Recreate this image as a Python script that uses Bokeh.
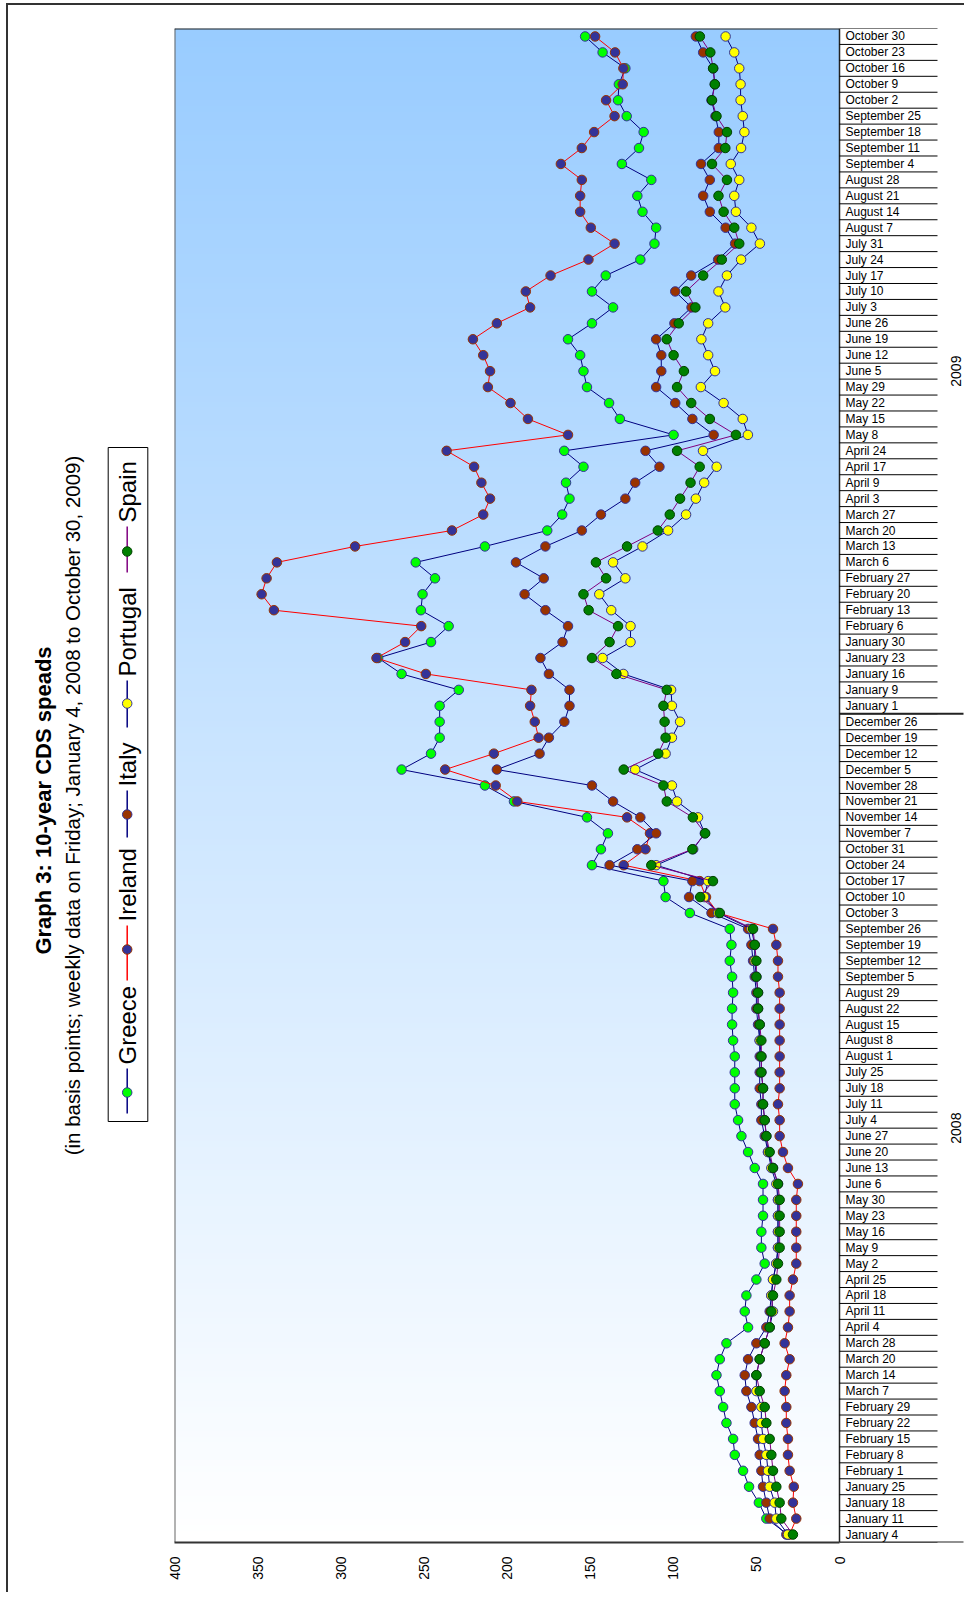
import numpy as np
from math import pi
from bokeh.plotting import figure
from bokeh.layouts import row
from bokeh.models import Range1d, FixedTicker, ColumnDataSource
from bokeh.core.properties import value
from bokeh.embed import file_html
from bokeh.resources import INLINE

# ---------------- data ----------------
title = "Graph 3: 10-year CDS speads"
subtitle = "(in basis points; weekly data on Friday; January 4, 2008 to October 30, 2009)"

years = ["2008", "2009"]
dates_2008 = ["January 4", "January 11", "January 18", "January 25", "February 1", "February 8",
              "February 15", "February 22", "February 29", "March 7", "March 14", "March 20",
              "March 28", "April 4", "April 11", "April 18", "April 25", "May 2", "May 9", "May 16",
              "May 23", "May 30", "June 6", "June 13", "June 20", "June 27", "July 4", "July 11",
              "July 18", "July 25", "August 1", "August 8", "August 15", "August 22", "August 29",
              "September 5", "September 12", "September 19", "September 26", "October 3",
              "October 10", "October 17", "October 24", "October 31", "November 7", "November 14",
              "November 21", "November 28", "December 5", "December 12", "December 19", "December 26"]
dates_2009 = ["January 1", "January 9", "January 16", "January 23", "January 30", "February 6",
              "February 13", "February 20", "February 27", "March 6", "March 13", "March 20",
              "March 27", "April 3", "April 9", "April 17", "April 24", "May 8", "May 15", "May 22",
              "May 29", "June 5", "June 12", "June 19", "June 26", "July 3", "July 10", "July 17",
              "July 24", "July 31", "August 7", "August 14", "August 21", "August 28", "September 4",
              "September 11", "September 18", "September 25", "October 2", "October 9", "October 16",
              "October 23", "October 30"]

greece = [31, 44, 48.5, 54.4, 58, 63, 64, 68, 70, 72, 74, 72, 68, 55, 57, 56, 50, 45, 47, 47,
          46, 46, 46, 51, 55, 59, 61, 63, 63, 63, 63, 64, 64.6, 64.6, 64, 64.6, 66, 65, 66, 90,
          104.6, 105.9, 148.9, 143.5, 139.3, 151.9, 195.8, 213.3, 263.4, 245.7, 240.5, 240.5,
          240.5, 229, 263.4, 277.5, 245.7, 235.1, 251.8, 250.8, 243.3, 254.9, 213.3, 175.8, 166.8,
          162.4, 164.5, 154, 165.6, 99.8, 132.1, 138.6, 151.9, 154, 156, 163.3, 148.9, 136.2, 148.9,
          140.6, 119.8, 111.3, 110.3, 118.5, 121.6, 113.2, 130.9, 120.6, 117.8, 128, 133.2, 132.7,
          128.8, 142.5, 153]
ireland = [30, 26, 28, 27.5, 30, 31, 31, 32, 32, 33, 32, 30, 33, 31, 30, 30, 28, 26, 26, 26,
           26, 26, 25, 31, 34, 36, 36, 37, 36, 36, 36, 36, 36, 36, 36, 37, 37, 38, 40, 73,
           80.3, 84.1, 129.8, 116.7, 114, 127.8, 193.8, 206.8, 237.2, 207.9, 181, 183.3,
           186.1, 185.3, 248.8, 278.5, 261.3, 251.6, 340.2, 347.6, 344.6, 338.4, 291.4, 233.1, 214.3,
           210.2, 215.4, 219.8, 236.3, 163.3, 187.4, 197.9, 211.5, 210.2, 214.3, 220.5, 206.1, 186.1,
           188.7, 173.8, 151, 135.3, 149.6, 156, 156, 155, 167.6, 155, 147.6, 135.3, 140.4, 130.4,
           130, 135, 147]
italy = [32, 42, 44, 46, 47, 48, 49, 51, 53, 56, 57, 55, 50, 44, 42, 41, 40, 38, 37, 37,
         37, 37, 37, 40, 43, 45, 47, 47, 48, 48, 48, 48, 49, 50, 50, 51, 52, 53, 55, 77,
         90.5, 88.5, 138.3, 121.6, 110.3, 119.8, 136.2, 148.9, 206.1, 180.4, 174.8, 165.5,
         162.4, 162.4, 174.8, 179.9, 166.6, 163.3, 176.9, 189.4, 177.9, 194.6, 176.9, 155, 143.5,
         128.8, 122.9, 108.3, 116.7, 75.7, 88.5, 98.8, 110.3, 107.2, 107.2, 110.3, 99.3, 89, 98.8,
         89.2, 73, 62.8, 68.5, 78, 82, 78, 83.3, 72.6, 72.6, 74.6, 77, 75, 76, 82, 86.4]
portugal = [31, 38, 39, 42, 43, 44, 46, 47, 47, 50, 50, 48, 45, 42, 40, 41, 40, 38, 37, 37,
            37, 37, 38, 41, 43, 44, 45, 46, 46, 47, 47, 48, 48, 49, 49, 50, 51, 51, 53, 73,
            81.4, 79, 110.3, 88, 81, 85.1, 97.7, 100.8, 122.9, 104.6, 100.8, 95.9,
            100.8, 101.3, 130, 142.5, 125.7, 125.7, 137.3, 144.5, 128.8, 136.2, 118.5, 103.1, 92.3,
            86.4, 81.4, 73.9, 82.1, 55.1, 58.2, 69.7, 83.4, 74.9, 79, 83.1, 79, 68.7, 72.8, 67.7,
            59.2, 47.9, 53, 62.3, 63.3, 60.3, 65.4, 59.2, 57.2, 58.2, 59.5, 59.5, 60.3, 63.3, 68.5]
spain = [28, 35, 36, 38, 40, 41, 42, 44, 45, 48, 50, 48, 45, 42, 41, 40, 38, 37, 36, 36,
         36, 36, 37, 40, 42, 44, 45, 46, 46, 47, 47, 47, 48, 49, 49, 50, 50, 51, 52, 72,
         83.8, 76.1, 113.2, 88.5, 80.8, 88.2, 103.9, 105.9, 129.8, 109, 104.6, 105.2,
         105.9, 103.9, 134.2, 148.9, 138.3, 133.2, 150.9, 154, 140.4, 146.5, 127.8, 109.3, 102.1,
         95.9, 89.6, 84.1, 97.7, 62.3, 78, 89.2, 97.7, 93.6, 99.8, 103.9, 96.7, 86.7, 92.3, 82,
         70.8, 60.3, 63.3, 69.7, 72.8, 67.7, 76.7, 68.7, 67.7, 74, 76.7, 75, 76, 77.7, 84]

value_ticks = [0, 50, 100, 150, 200, 250, 300, 350, 400]

# ---------------- style / layout ----------------
FONT = "Liberation Sans"
NAVY = "#000080"
series = [
    ("Greece", greece, "#00FF00", "#333399", NAVY),
    ("Ireland", ireland, "#333399", "#993300", "#FF0000"),
    ("Italy", italy, "#993300", "#333399", NAVY),
    ("Portugal", portugal, "#FFFF00", "#333399", NAVY),
    ("Spain", spain, "#008000", "#004000", "#800080"),
]

dates = dates_2008 + dates_2009
n = len(dates)
idx = list(range(n))

ORIGIN_X, ORIGIN_Y = 8, 5          # page position of the layout content
LEFT_W, MAIN_LEFT = 154, 12
VALUE_W, LABEL_AREA = 665, 125      # value area and date-label area widths (px)
FRAME_H = 1514
TOP, BOTTOM = 23, 50
FIG_H = TOP + FRAME_H + BOTTOM
px_per_unit = VALUE_W / 400.0
TICK_LEN, GROUP_LEN, YEAR_OFF = 98, 124, 116

x_end = -LABEL_AREA / px_per_unit

# ---------------- main chart ----------------
p = figure(frame_width=VALUE_W + LABEL_AREA, frame_height=FRAME_H,
           x_range=Range1d(400, x_end), y_range=Range1d(-0.5, n - 0.5),
           y_axis_type=None, output_backend="svg", toolbar_location=None,
           min_border_left=MAIN_LEFT, min_border_right=0, min_border_top=TOP,
           min_border_bottom=BOTTOM, background_fill_color="white",
           border_fill_color="white", outline_line_color=None)

# gradient background of the value area
N = 256
grad = np.zeros((N, 1), dtype=np.uint32)
view = grad.view(dtype=np.uint8).reshape((N, 1, 4))
t = np.linspace(0.0, 1.0, N)
view[:, 0, 0] = np.round(255 + (0x99 - 255) * t).astype(np.uint8)
view[:, 0, 1] = np.round(255 + (0xCC - 255) * t).astype(np.uint8)
view[:, 0, 2] = 255
view[:, 0, 3] = 255
p.image_rgba(image=[grad], x=0, y=-0.5, dw=400, dh=n)

# plot-area edges (left and top)
p.segment(x0=[400], y0=[-0.5], x1=[400], y1=[n - 0.5], line_color="#666666", line_width=2)
p.segment(x0=[400], y0=[n - 0.5], x1=[0], y1=[n - 0.5], line_color="#222222", line_width=2)

# grid
p.xgrid.ticker = FixedTicker(ticks=value_ticks[1:])
p.xgrid.grid_line_color = "black"
p.xgrid.grid_line_dash = "9 6"
p.xgrid.grid_line_width = 1

# value axis (bottom)
xa = p.xaxis[0]
xa.ticker = FixedTicker(ticks=value_ticks)
xa.bounds = (0, 400)
xa.major_label_orientation = pi / 2
xa.major_tick_out = 0
xa.major_tick_in = 0
xa.minor_tick_out = 0
xa.minor_tick_in = 0
xa.major_label_standoff = 14
xa.axis_line_width = 2
xa.axis_line_color = "#333333"
xa.major_label_text_font = FONT
xa.major_label_text_font_size = "14px"
xa.major_label_text_color = "black"

# series
for name, vals, fill, edge, line in series:
    src = ColumnDataSource(dict(v=vals, i=idx))
    p.line("v", "i", source=src, line_color=line, line_width=1)
    p.scatter("v", "i", source=src, size=9.5, fill_color=fill, line_color=edge, line_width=1)

# date axis on the right: axis line, band separators, labels
p.segment(x0=[0], y0=[-0.5], x1=[0], y1=[n - 0.5], line_color="#222222", line_width=1.5)
sep = [i - 0.5 for i in range(n + 1)]
p.segment(x0=[0] * len(sep), y0=sep, x1=[-TICK_LEN / px_per_unit] * len(sep), y1=sep,
          line_color="black", line_width=1)
p.text(x=[0] * n, y=idx, text=dates, x_offset=6, text_align="left", text_baseline="middle",
       text_font=value(FONT), text_font_size="12px", text_color="black")

# year groups
starts = [0, len(dates_2008)]
ends = [len(dates_2008), n]
p.segment(x0=[0, 0], y0=[s - 0.5 for s in starts], x1=[-GROUP_LEN / px_per_unit] * 2,
          y1=[s - 0.5 for s in starts], line_color="#222222", line_width=2)
p.text(x=[-YEAR_OFF / px_per_unit] * 2, y=[(s + e - 1) / 2.0 for s, e in zip(starts, ends)],
       text=years, angle=pi / 2, text_align="center", text_baseline="middle",
       text_font=value(FONT), text_font_size="14px", text_color="black")

# ---------------- left panel: title + legend (page pixel coordinates) ----------------
fx0, fx1 = ORIGIN_X, ORIGIN_X + LEFT_W
fy_top, fy_bot = ORIGIN_Y + TOP, ORIGIN_Y + TOP + FRAME_H
left = figure(width=LEFT_W, height=FIG_H, x_range=Range1d(fx0, fx1), y_range=Range1d(fy_bot, fy_top),
              x_axis_type=None, y_axis_type=None, output_backend="svg", toolbar_location=None,
              min_border_left=0, min_border_right=0, min_border_top=TOP, min_border_bottom=BOTTOM,
              outline_line_color=None, background_fill_color="white", border_fill_color="white")
left.grid.visible = False

left.text(x=[42.5], y=[800], text=[title], angle=pi / 2, text_align="center",
          text_baseline="middle", text_font=value(FONT), text_font_size="22px",
          text_font_style="bold", text_color="black")
left.text(x=[71.7], y=[805], text=[subtitle], angle=pi / 2, text_align="center",
          text_baseline="middle", text_font=value(FONT), text_font_size="20.5px",
          text_color="black")

# legend box
left.quad(left=[107.7], right=[147.3], top=[447], bottom=[1121], fill_color="white",
          line_color="black", line_width=1)
leg_x = 126.7
leg_pos = [(1113, 1068, 1092, 1064), (980, 925, 949, 921), (837, 790, 814, 786),
           (727, 680, 703, 676), (572, 526, 551, 522)]
for (name, vals, fill, edge, line), (y0, y1, ym, yt) in zip(series, leg_pos):
    left.segment(x0=[leg_x], y0=[y0], x1=[leg_x], y1=[y1], line_color=line, line_width=1.5)
    left.scatter(x=[leg_x], y=[ym], size=9.5, fill_color=fill, line_color=edge, line_width=1)
    left.text(x=[leg_x], y=[yt], text=[name], angle=pi / 2, text_align="left",
              text_baseline="middle", text_font=value(FONT), text_font_size="24px",
              text_color="black")

layout = row(left, p, styles={"margin-left": "6px", "margin-top": "3px",
                              "border-top": "2px solid #333333",
                              "border-left": "2px solid #333333"})

open("out.html", "w").write(file_html(layout, INLINE))
